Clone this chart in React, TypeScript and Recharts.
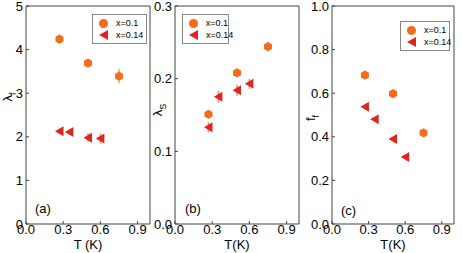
import { ScatterChart, Scatter, XAxis, YAxis, ErrorBar, ReferenceLine } from 'recharts'

// temperatures (K)
const tempsX01 = [0.27, 0.5, 0.75]
const tempsX014 = [0.27, 0.35, 0.5, 0.6]

// (a) lambda_f
const lambdaF01 = [4.24, 3.69, 3.39]
const lambdaF01Err = [0.07, 0.08, 0.17]
const lambdaF014 = [2.13, 2.11, 1.98, 1.96]
const lambdaF014Err = [0.05, 0.06, 0.1, 0.12]

// (b) lambda_S
const lambdaS01 = [0.151, 0.208, 0.244]
const lambdaS01Err = [0.006, 0.006, 0.007]
const lambdaS014 = [0.133, 0.175, 0.184, 0.193]
const lambdaS014Err = [0.007, 0.008, 0.008, 0.007]

// (c) f_f
const ff01 = [0.683, 0.598, 0.418]
const ff014 = [0.538, 0.48, 0.39, 0.307]

const xTicks = [0, 0.3, 0.6, 0.9]
const yTicksA = [0, 1, 2, 3, 4, 5]
const yTicksB = [0, 0.1, 0.2, 0.3]
const yTicksC = [0, 0.2, 0.4, 0.6, 0.8, 1]

const ORANGE = '#f36c1e'
const RED = '#e2241c'
const FONT = '"Liberation Sans", Arial, sans-serif'
const AXIS = '#444'

type Pt = { t: number; v: number; e?: number }

const toPts = (ts: number[], vs: number[], es?: number[]): Pt[] =>
  ts.map((t, i) => ({ t, v: vs[i], e: es ? es[i] : undefined }))

function Hexagon(props: any) {
  const { cx, cy } = props
  if (cx == null || cy == null) return null
  const r = 4.6
  const pts = [0, 1, 2, 3, 4, 5]
    .map((k) => {
      const a = Math.PI / 6 + (k * Math.PI) / 3
      return `${cx + r * Math.cos(a)},${cy + r * Math.sin(a)}`
    })
    .join(' ')
  return <polygon points={pts} fill={ORANGE} />
}

function LeftTriangle(props: any) {
  const { cx, cy } = props
  if (cx == null || cy == null) return null
  return <polygon points={`${cx - 4.5},${cy} ${cx + 4},${cy - 5} ${cx + 4},${cy + 5}`} fill={RED} />
}

function LegendBox({ left, top, width }: { left: number; top: number; width: number }) {
  const row = { display: 'flex', alignItems: 'center', height: 12 }
  return (
    <div
      style={{
        position: 'absolute',
        left,
        top,
        border: '1px solid #888',
        width,
        padding: '2px 0 2px 6px',
        fontFamily: FONT,
        fontSize: 9,
        lineHeight: '12px',
        boxSizing: 'border-box',
      }}
    >
      <div style={row}>
        <div style={{ width: 9, height: 9, borderRadius: 4.5, background: ORANGE }} />
        <span style={{ marginLeft: 8 }}>x=0.1</span>
      </div>
      <div style={row}>
        <div
          style={{
            width: 0,
            height: 0,
            borderTop: '5px solid transparent',
            borderBottom: '5px solid transparent',
            borderRight: `9px solid ${RED}`,
          }}
        />
        <span style={{ marginLeft: 8 }}>x=0.14</span>
      </div>
    </div>
  )
}

type PanelProps = {
  left: number
  width: number
  yAxisWidth: number
  yDomain: [number, number]
  yTicks: number[]
  yDigits: number
  yMain: string
  ySub: string
  yLabelX: number
  yLabelY: number
  xLabel: string
  tag: string
  tagX: number
  tagY: number
  s01: Pt[]
  s014: Pt[]
  legendX: number
  legendY: number
  legendW: number
}

function Panel(p: PanelProps) {
  const hasErr = p.s01.some((d) => d.e != null)
  const tickStyle = { fill: '#000', fontSize: 13, fontFamily: FONT }
  const plotLeft = p.yAxisWidth
  const plotW = p.width - p.yAxisWidth - 5
  return (
    <div style={{ position: 'absolute', left: p.left, top: 0 }}>
      <ScatterChart width={p.width} height={240} margin={{ top: 6, right: 5, bottom: 0, left: 0 }}>
        <XAxis
          dataKey="t"
          type="number"
          domain={[0, 1]}
          ticks={xTicks}
          tickFormatter={(v: number) => v.toFixed(1)}
          height={16}
          tickSize={-3}
          tickMargin={4}
          interval={0}
          axisLine={{ stroke: AXIS }}
          tickLine={{ stroke: AXIS }}
          tick={tickStyle}
        />
        <YAxis
          dataKey="v"
          type="number"
          domain={p.yDomain}
          ticks={p.yTicks}
          tickFormatter={(v: number) => v.toFixed(p.yDigits)}
          width={p.yAxisWidth}
          tickSize={-3}
          tickMargin={6}
          interval={0}
          axisLine={{ stroke: AXIS }}
          tickLine={{ stroke: AXIS }}
          tick={tickStyle}
          label={{
            content: () => (
              <text
                x={p.yLabelX}
                y={p.yLabelY}
                transform={`rotate(-90 ${p.yLabelX} ${p.yLabelY})`}
                textAnchor="middle"
                fontSize={13}
                fontFamily={FONT}
                fill="#000"
              >
                {p.yMain}
                <tspan fontSize={9} dy={4}>
                  {p.ySub}
                </tspan>
              </text>
            ),
          }}
        />
        <ReferenceLine y={p.yDomain[1]} stroke={AXIS} />
        <ReferenceLine x={1} stroke={AXIS} />
        <Scatter data={p.s01} shape={<Hexagon />} isAnimationActive={false}>
          {hasErr && <ErrorBar dataKey="e" direction="y" width={0} stroke="#f8a77a" strokeWidth={1.5} />}
        </Scatter>
        <Scatter data={p.s014} shape={<LeftTriangle />} isAnimationActive={false}>
          {hasErr && <ErrorBar dataKey="e" direction="y" width={0} stroke="#ee8a84" strokeWidth={1.5} />}
        </Scatter>
      </ScatterChart>
      <LegendBox left={p.legendX} top={p.legendY} width={p.legendW} />
      <div
        style={{
          position: 'absolute',
          left: p.tagX,
          top: p.tagY,
          fontFamily: FONT,
          fontSize: 13,
          lineHeight: '13px',
        }}
      >
        {p.tag}
      </div>
      <div
        style={{
          position: 'absolute',
          left: plotLeft,
          width: plotW,
          top: 238,
          textAlign: 'center',
          fontFamily: FONT,
          fontSize: 13,
          lineHeight: '13px',
        }}
      >
        {p.xLabel}
      </div>
    </div>
  )
}

export default function App() {
  return (
    <div style={{ position: 'absolute', left: 0, top: 0, width: 463, height: 253 }}>
      <Panel
        left={0}
        width={155}
        yAxisWidth={26}
        yDomain={[0, 5]}
        yTicks={yTicksA}
        yDigits={0}
        yMain="λ"
        ySub="f"
        yLabelX={12}
        yLabelY={97}
        xLabel="T (K)"
        tag="(a)"
        tagX={35}
        tagY={202}
        s01={toPts(tempsX01, lambdaF01, lambdaF01Err)}
        s014={toPts(tempsX014, lambdaF014, lambdaF014Err)}
        legendX={92}
        legendY={14}
        legendW={55}
      />
      <Panel
        left={150}
        width={154}
        yAxisWidth={25}
        yDomain={[0, 0.3]}
        yTicks={yTicksB}
        yDigits={1}
        yMain="λ"
        ySub="S"
        yLabelX={12}
        yLabelY={110}
        xLabel="T(K)"
        tag="(b)"
        tagX={35}
        tagY={202}
        s01={toPts(tempsX01, lambdaS01, lambdaS01Err)}
        s014={toPts(tempsX014, lambdaS014, lambdaS014Err)}
        legendX={32}
        legendY={14}
        legendW={47}
      />
      <Panel
        left={300}
        width={159}
        yAxisWidth={32}
        yDomain={[0, 1]}
        yTicks={yTicksC}
        yDigits={1}
        yMain="f"
        ySub="f"
        yLabelX={15}
        yLabelY={118}
        xLabel="T(K)"
        tag="(c)"
        tagX={41}
        tagY={204}
        s01={toPts(tempsX01, ff01)}
        s014={toPts(tempsX014, ff014)}
        legendX={100}
        legendY={21}
        legendW={50}
      />
    </div>
  )
}
